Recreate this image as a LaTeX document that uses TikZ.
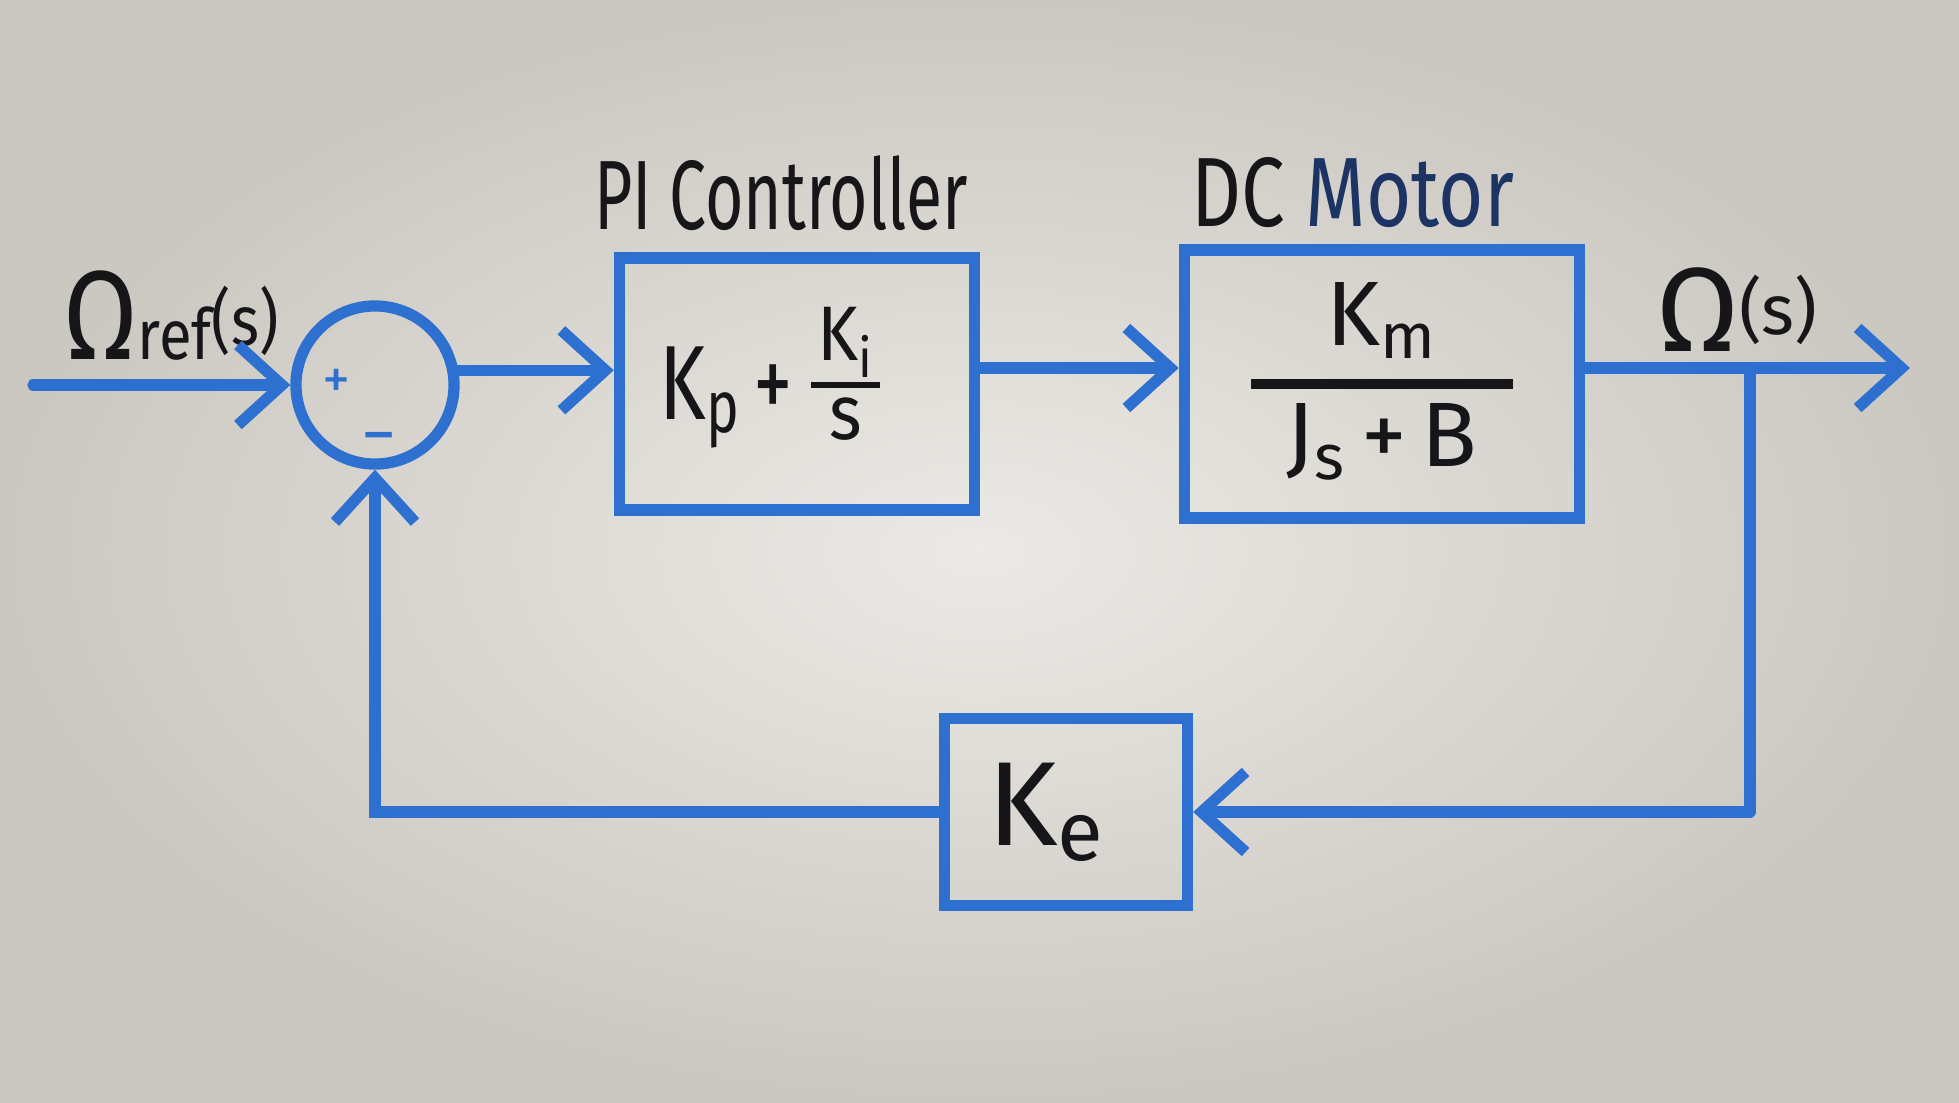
\documentclass[tikz,border=0pt]{standalone}
\usepackage{fontspec}
\setmainfont{Fira Sans}
\usepackage{graphicx}
\usetikzlibrary{arrows.meta,calc}
\definecolor{marker}{RGB}{46,112,208}
\definecolor{ink}{RGB}{22,22,24}
\definecolor{navy}{RGB}{28,52,100}
\definecolor{bgin}{RGB}{236,234,230}
\definecolor{bgout}{RGB}{203,199,193}
\newcommand\hsq[2]{\scalebox{#1}[1]{#2}}
% rule width, array stretch, numerator, denominator
\newcommand\hfrac[4]{{\setlength\arrayrulewidth{#1}\renewcommand\arraystretch{#2}\begin{tabular}{@{}c@{}}#3\\\hline #4\end{tabular}}}
\tikzset{
  blk/.style={draw=marker,line width=3.2pt,inner sep=0pt,text=ink},
  wire/.style={draw=marker,line width=3.2pt,line cap=round},
  arr/.style={wire,-{Straight Barb[length=4.4mm,width=8mm]}},
  lbl/.style={text=ink,inner sep=0pt},
  sign/.style={text=marker,inner sep=0pt},
}
\begin{document}
\begin{tikzpicture}[x=0.01cm,y=-0.01cm]
\useasboundingbox (0,0) rectangle (1959,1102);
\shade[inner color=bgin,outer color=bgout] (0,0) rectangle (1959,1102);

% blocks
\node[blk,circle,minimum size=1.58cm] (sum) at (375,385) {};
\node[blk,minimum width=3.55cm,minimum height=2.52cm] (pi) at (797,384)
  {\fontsize{30}{36}\selectfont\hsq{0.75}{K\textsubscript{p}\,+}\,\raisebox{5pt}{\fontsize{22}{26}\selectfont\hsq{0.9}{\hfrac{1.6pt}{0.8}{\makebox[22pt]{K\textsubscript{i}}}{s}}}\hspace*{0.54cm}};
\node[blk,minimum width=3.95cm,minimum height=2.68cm] (dc) at (1382,384)
  {\fontsize{26}{30}\selectfont\hfrac{3pt}{1.05}{\makebox[2.62cm]{K\textsubscript{m}}}{J\textsubscript{s}\,+\,B}};
\node[blk,minimum width=2.43cm,minimum height=1.87cm] (ke) at (1066,812)
  {\fontsize{34}{40}\selectfont K\textsubscript{e}\hspace*{0.4cm}};

% signs
\node[sign,font=\fontsize{16}{18}\selectfont] (plus) at (337,384) {+};
\node[sign,font=\fontsize{20}{22}\selectfont] (minus) at (379,445) {−};

% labels
\node[lbl] (pilbl) at (781,193) {\fontsize{28}{32}\selectfont\hsq{0.67}{PI Controller}};
\node[lbl] (dclbl) at (1353,193) {\fontsize{28}{32}\selectfont\hsq{0.79}{DC \textcolor{navy}{Motor}}};
\node[lbl] (inlbl) at (171,316) {\hsq{0.85}{\fontsize{36}{40}\selectfont Ω\fontsize{20}{24}\selectfont ref\raisebox{4pt}{(s)}}};
\node[lbl] (outlbl) at (1737,310) {\fontsize{34}{40}\selectfont Ω\fontsize{20}{24}\selectfont\raisebox{5pt}{(s)}};

% connectors
\coordinate (in) at (33,385);
\coordinate (row) at (0,368);
\coordinate (out) at (1910,368);
\coordinate (br) at (1750,368);
\coordinate (fb) at (1750,812);

\draw[arr] (in) -- (sum.west);
\draw[arr] (sum.10) -- (sum.10 -| pi.west);
\draw[arr] (pi.east |- row) -- (dc.west |- row);
\draw[arr] (dc.east |- row) -- (out);
\draw[wire] (br) -- (fb);
\draw[arr] (fb) -- (ke.east);
\draw[arr] (ke.west) -| (sum.south);
\end{tikzpicture}
\end{document}
